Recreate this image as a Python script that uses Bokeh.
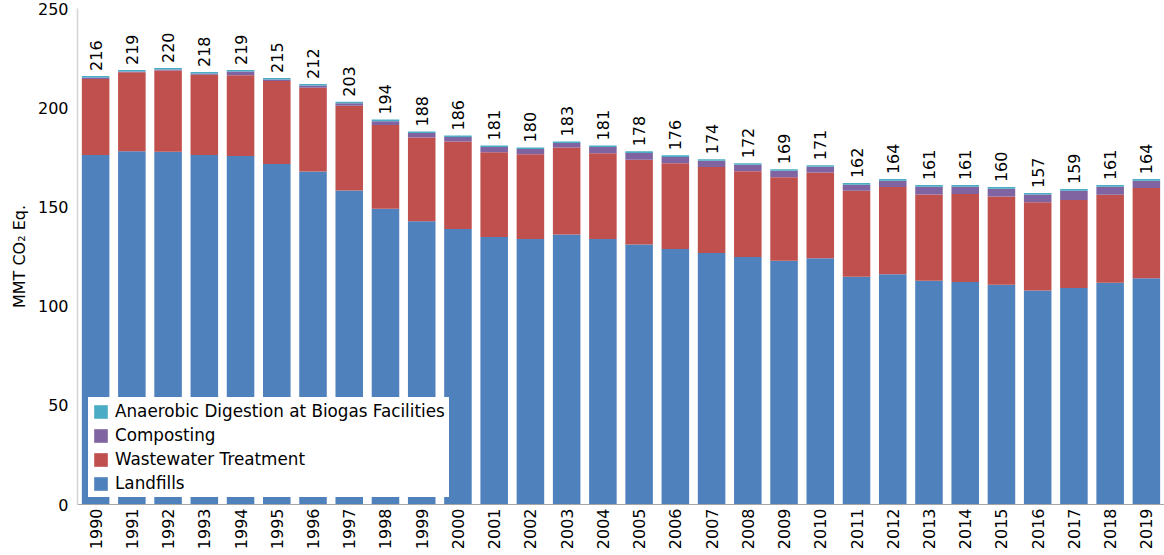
from math import pi
from bokeh.plotting import figure
from bokeh.models import ColumnDataSource, FactorRange, Range1d, FixedTicker, Legend, LegendItem, LabelSet
from bokeh.core.properties import value
from bokeh.embed import file_html
from bokeh.resources import INLINE

years = ["1990", "1991", "1992", "1993", "1994", "1995", "1996", "1997", "1998", "1999",
         "2000", "2001", "2002", "2003", "2004", "2005", "2006", "2007", "2008", "2009",
         "2010", "2011", "2012", "2013", "2014", "2015", "2016", "2017", "2018", "2019"]

landfills = [176.1, 178.1, 177.8, 176.1, 175.6, 171.6, 167.9, 158.3, 149.1, 142.8,
             138.8, 134.8, 133.8, 136.1, 133.8, 131.1, 128.8, 126.8, 124.8, 122.8,
             124.1, 114.8, 116.1, 112.8, 112.1, 110.8, 107.8, 109.1, 111.8, 114.1]
wastewater = [38.4, 39.8, 41.0, 40.5, 40.7, 41.9, 42.2, 42.7, 42.2, 42.2,
              44.2, 42.7, 42.7, 43.9, 43.2, 42.7, 43.2, 43.3, 43.2, 42.2,
              43.2, 43.3, 43.9, 43.5, 44.4, 44.5, 44.5, 44.4, 44.3, 45.4]
composting = [0.7, 0.3, 0.4, 0.6, 1.9, 0.7, 1.1, 1.2, 1.9, 2.2,
              2.2, 2.7, 2.7, 2.2, 3.2, 3.4, 3.2, 3.1, 3.2, 3.2,
              2.9, 3.1, 3.2, 3.9, 3.7, 3.9, 3.9, 4.7, 4.1, 3.7]
anaerobic = [0.8, 0.8, 0.8, 0.8, 0.8, 0.8, 0.8, 0.8, 0.8, 0.8,
             0.8, 0.8, 0.8, 0.8, 0.8, 0.8, 0.8, 0.8, 0.8, 0.8,
             0.8, 0.8, 0.8, 0.8, 0.8, 0.8, 0.8, 0.8, 0.8, 0.8]
total_labels = [216, 219, 220, 218, 219, 215, 212, 203, 194, 188,
                186, 181, 180, 183, 181, 178, 176, 174, 172, 169,
                171, 162, 164, 161, 161, 160, 157, 159, 161, 164]

series = ["landfills", "wastewater", "composting", "anaerobic"]
names = ["Landfills", "Wastewater Treatment", "Composting", "Anaerobic Digestion at Biogas Facilities"]
colors = ["#4F81BD", "#C0504D", "#8064A2", "#4BACC6"]

tops = [a + b + c + d for a, b, c, d in zip(landfills, wastewater, composting, anaerobic)]

src = ColumnDataSource(dict(year=years, landfills=landfills, wastewater=wastewater,
                            composting=composting, anaerobic=anaerobic,
                            top=tops, label=[str(v) for v in total_labels]))

FONT = "DejaVu Sans"

p = figure(x_range=FactorRange(factors=years), y_range=Range1d(0, 250),
           width=1164, height=552, output_backend="svg", toolbar_location=None,
           min_border_left=77, min_border_right=0, min_border_top=8, min_border_bottom=47)

renderers = p.vbar_stack(series, x="year", width=0.76, fill_color=colors,
                         line_color=None, source=src)

labels = LabelSet(x="year", y="top", text="label", source=src, angle=pi / 2,
                  text_align="left", text_baseline="middle", y_offset=5,
                  text_font=value(FONT), text_font_size="16px", text_color="#000000")
p.add_layout(labels)

items = [LegendItem(label=names[i], renderers=[renderers[i]]) for i in (3, 2, 1, 0)]
legend = Legend(items=items, location=(11, 7), margin=0, padding=4, spacing=4,
                glyph_width=17, glyph_height=17, label_height=17, label_standoff=6,
                label_text_font=FONT, label_text_font_size="16.8px", label_text_color="#000000",
                border_line_alpha=0, background_fill_color="white", background_fill_alpha=1)
p.add_layout(legend)

p.xgrid.grid_line_color = None
p.ygrid.grid_line_color = None
p.outline_line_color = None

p.xaxis.major_label_orientation = pi / 2
p.xaxis.major_label_text_font = FONT
p.xaxis.major_label_text_font_size = "16px"
p.xaxis.major_label_text_color = "#000000"
p.xaxis.major_label_standoff = 4
p.xaxis.major_tick_line_color = None
p.xaxis.major_tick_out = 0
p.xaxis.major_tick_in = 0
p.xaxis.axis_line_color = "#a6a6a6"

p.yaxis.ticker = FixedTicker(ticks=[0, 50, 100, 150, 200, 250])
p.yaxis.minor_tick_line_color = None
p.yaxis.major_tick_line_color = None
p.yaxis.major_tick_out = 0
p.yaxis.major_tick_in = 0
p.yaxis.axis_line_color = "#d4d4d4"
p.yaxis.axis_line_width = 1.5
p.yaxis.major_label_standoff = 9
p.yaxis.major_label_text_font = FONT
p.yaxis.major_label_text_font_size = "16px"
p.yaxis.major_label_text_color = "#000000"
p.yaxis.axis_label = "MMT CO\u2082 Eq."
p.yaxis.axis_label_text_font = FONT
p.yaxis.axis_label_text_font_style = "normal"
p.yaxis.axis_label_text_font_size = "16px"
p.yaxis.axis_label_text_color = "#000000"
p.yaxis.axis_label_standoff = 6

open("out.html", "w").write(file_html(p, INLINE))
